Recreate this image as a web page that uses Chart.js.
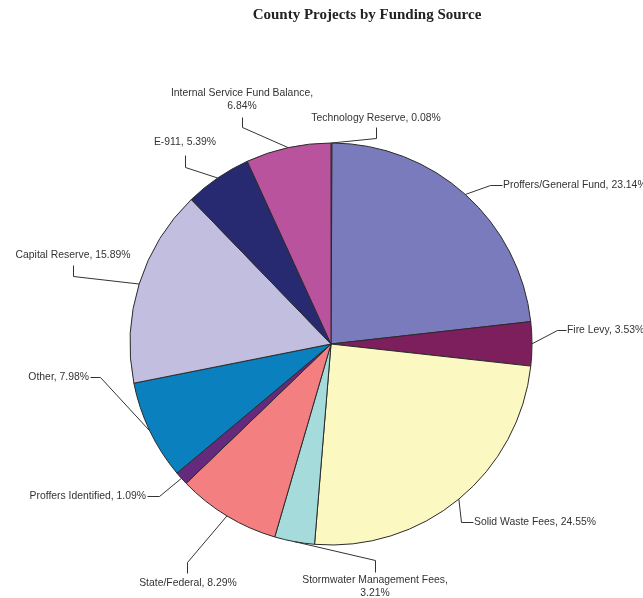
<!DOCTYPE html>
<html>
<head>
<meta charset="utf-8">
<script src="https://cdn.jsdelivr.net/npm/chart.js@4"></script>
<style>
  html, body { margin: 0; padding: 0; background: #fff; }
  #wrap { width: 643px; height: 598px; }
</style>
</head>
<body>
<div id="wrap"><canvas id="pie" width="643" height="598"></canvas></div>
<script>
// data (clockwise from 12 o'clock)
const categories = [
    'Technology Reserve', 'Proffers/General Fund', 'Fire Levy', 'Solid Waste Fees',
    'Stormwater Management Fees', 'State/Federal', 'Proffers Identified', 'Other',
    'Capital Reserve', 'E-911', 'Internal Service Fund Balance'
];
const shares = [0.08, 23.14, 3.53, 24.55, 3.21, 8.29, 1.09, 7.98, 15.89, 5.39, 6.84];
const sliceColors = [
    '#F6EFB4', '#7A7BBC', '#7E1F5D', '#FBF8C2', '#A5DBDB', '#F37F80',
    '#652A7D', '#0A80BE', '#C2BEE0', '#272A70', '#BA539E'
];

// where each data label sits, and the bend of its leader line
const labelLayout = [
    { wrap: false, tx: 376, ty: 118, align: 'center', elbow: [376, 138], join: [376, 127] },
    { wrap: false, tx: 503, ty: 185, align: 'left',   elbow: [490, 185], join: [502, 185] },
    { wrap: false, tx: 567, ty: 330, align: 'left',   elbow: [557, 330], join: [566, 330] },
    { wrap: false, tx: 474, ty: 522, align: 'left',   elbow: [461, 522], join: [473, 522] },
    { wrap: true,  tx: 375, ty: 580, align: 'center', elbow: [375, 560], join: [375, 572] },
    { wrap: false, tx: 188, ty: 583, align: 'center', elbow: [187, 562], join: [187, 573] },
    { wrap: false, tx: 146, ty: 496, align: 'right',  elbow: [159, 496], join: [147, 496] },
    { wrap: false, tx: 89,  ty: 377, align: 'right',  elbow: [100, 377], join: [90, 377] },
    { wrap: false, tx: 73,  ty: 255, align: 'center', elbow: [73, 276],  join: [73, 265] },
    { wrap: false, tx: 185, ty: 142, align: 'center', elbow: [185, 167], join: [185, 155] },
    { wrap: true,  tx: 242, ty: 93,  align: 'center', elbow: [242, 127], join: [242, 117] }
];

const titleText = 'County Projects by Funding Source';

// leader lines + labels + title
Chart.register({
    id: 'excelLabels',
    afterDraw(chart) {
        const ctx = chart.ctx;
        const arcs = chart.getDatasetMeta(0).data;

        ctx.save();
        ctx.fillStyle = '#222';
        ctx.font = 'bold 15px "Liberation Serif", "Times New Roman", serif';
        ctx.textAlign = 'center';
        ctx.textBaseline = 'middle';
        ctx.fillText(titleText, 367, 15);

        ctx.font = '10.4px "Liberation Sans", Arial, sans-serif';
        ctx.strokeStyle = '#333';
        ctx.lineWidth = 1;

        arcs.forEach((arc, i) => {
            const { x, y, startAngle, endAngle, outerRadius } =
                arc.getProps(['x', 'y', 'startAngle', 'endAngle', 'outerRadius'], true);
            const mid = (startAngle + endAngle) / 2;
            const px = x + Math.cos(mid) * outerRadius;
            const py = y + Math.sin(mid) * outerRadius;
            const lay = labelLayout[i];

            ctx.beginPath();
            ctx.moveTo(px, py);
            ctx.lineTo(lay.elbow[0] + 0.5, lay.elbow[1] + 0.5);
            ctx.lineTo(lay.join[0] + 0.5, lay.join[1] + 0.5);
            ctx.stroke();

            const pct = shares[i].toFixed(2) + '%';
            const lines = lay.wrap
                ? [categories[i] + ',', pct]
                : [categories[i] + ', ' + pct];
            ctx.fillStyle = '#333';
            ctx.textAlign = lay.align;
            lines.forEach((ln, k) => ctx.fillText(ln, lay.tx, lay.ty + k * 13.5));
        });
        ctx.restore();
    }
});

new Chart(document.getElementById('pie'), {
    type: 'pie',
    data: {
        labels: categories,
        datasets: [{
            data: shares,
            backgroundColor: sliceColors,
            borderColor: '#2a2a2a',
            borderWidth: 1
        }]
    },
    options: {
        responsive: false,
        animation: false,
        radius: 201,
        layout: { padding: { left: 130, right: 111, top: 143, bottom: 53 } },
        plugins: {
            legend: { display: false },
            tooltip: { enabled: false },
            title: { display: false }
        }
    }
});
</script>
</body>
</html>
